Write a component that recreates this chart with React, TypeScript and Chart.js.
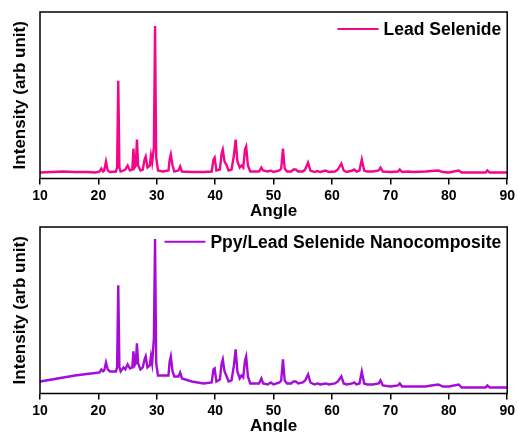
import { useEffect, useRef } from "react";
import { Chart, registerables } from "chart.js";

Chart.register(...registerables);

// Diffraction angle (2θ) sample positions
const angles = [
  10, 12, 14, 16, 18, 19.5, 20.2, 20.5, 20.8, 21.0,
  21.3, 21.6, 22, 23.0, 23.2, 23.4, 23.6, 23.8, 24.3, 24.6,
  25.0, 25.4, 25.8, 26.0, 26.2, 26.4, 26.6, 26.8, 27.2, 27.6,
  27.9, 28.1, 28.4, 28.8, 29.0, 29.2, 29.5, 29.7, 29.9, 30.2,
  31, 32.0, 32.2, 32.4, 32.7, 33.0, 33.7, 34.0, 34.3, 36,
  38, 39.4, 39.7, 39.9, 40.2, 40.8, 41.1, 41.3, 41.6, 41.9,
  42.3, 42.8, 43.2, 43.5, 43.8, 44.2, 44.5, 44.8, 45.1, 45.3,
  45.6, 46, 47.5, 47.9, 48.2, 49.0, 49.5, 50, 51.0, 51.3,
  51.6, 51.9, 52.3, 53, 53.4, 53.8, 54.2, 55.0, 55.4, 55.9,
  56.3, 57, 57.5, 58, 58.9, 59.5, 60.5, 61.0, 61.6, 62.0,
  62.5, 63.5, 63.8, 64.2, 64.7, 65.1, 65.5, 66, 67, 68.0,
  68.3, 68.7, 70, 71.3, 71.6, 72, 73, 74, 76, 77,
  78.2, 79, 80, 81.7, 82.2, 84, 86.3, 86.6, 87, 88,
  90,
];

// Lead Selenide intensities (arb. unit)
const leadSelenide = [
  5, 5.5, 6, 5.5, 5.5, 5, 6, 9, 6, 7,
  16, 7, 5.5, 6, 10, 97, 10, 6, 7, 8,
  12, 7, 8, 29, 10, 12, 38, 12, 7, 8,
  18, 21, 10, 12, 22, 15, 30, 152, 20, 7,
  6, 7, 18, 23, 12, 6, 7, 11, 6, 5.5,
  5.5, 6, 18, 20, 7, 8, 24, 28, 16, 13,
  7, 8, 22, 38, 16, 10, 12, 10, 28, 31,
  12, 6, 6, 10, 7, 6, 7, 5.5, 7, 9,
  29, 9, 6, 6, 8, 8, 6, 6, 8, 15,
  7, 5.5, 6.5, 5.5, 7, 5.5, 6, 8, 14, 7,
  5.5, 7, 8, 6, 7, 18, 7, 6, 6, 7,
  10, 6, 5.5, 6, 8, 5.5, 6, 5.5, 6, 6.5,
  7, 5.5, 5, 7, 5, 5, 5, 7, 5, 5,
  5,
];

// Ppy/Lead Selenide Nanocomposite intensities (arb. unit)
const ppyLeadSelenide = [
  12, 14, 16, 18, 19.5, 20.5, 21, 24, 22, 23,
  31, 24, 22, 22, 26, 108, 26, 22, 26, 24,
  29, 25, 26, 42, 28, 30, 50, 30, 24, 26,
  34, 37, 26, 28, 37, 30, 55, 154, 30, 18,
  18, 18, 32, 37, 22, 17, 17, 21, 15, 12,
  10, 11, 24, 25, 12, 14, 30, 34, 22, 18,
  12, 13, 28, 44, 22, 15, 18, 16, 33, 37,
  17, 10, 10, 15, 10, 9, 11, 9, 11, 13,
  34, 13, 10, 10, 12, 12, 10, 11, 13, 19,
  11, 9, 10, 9, 10, 9, 10, 12, 17, 10,
  9, 10, 11, 9, 10, 22, 10, 9, 9, 10,
  13, 8, 7, 8, 10, 7, 7, 7, 7, 8,
  9, 7, 7, 9, 6, 6, 6, 8, 6, 6,
  6,
];

const xTicks = [10, 20, 30, 40, 50, 60, 70, 80, 90];

const FONT = '"Liberation Sans", Arial, Helvetica, sans-serif';
const PINK = "#F2078C";
const PURPLE = "#A50CD8";

const framePlugin = {
  id: "frameBox",
  afterDraw(chart: any) {
    const { ctx, chartArea } = chart;
    ctx.save();
    ctx.strokeStyle = "#000";
    ctx.lineWidth = 1.5;
    ctx.strokeRect(
      chartArea.left,
      chartArea.top,
      chartArea.right - chartArea.left,
      chartArea.bottom - chartArea.top
    );
    ctx.restore();
  },
};

const insideLegend = {
  id: "insideLegend",
  afterDraw(chart: any, _args: any, opts: any) {
    const { ctx, chartArea } = chart;
    const ds = chart.data.datasets[0];
    ctx.save();
    ctx.font = `bold 17.5px ${FONT}`;
    const w = ctx.measureText(ds.label).width;
    const textX = chartArea.right - 6 - w;
    const y = chartArea.top + opts.dy;
    ctx.strokeStyle = ds.borderColor;
    ctx.lineWidth = 2;
    ctx.beginPath();
    ctx.moveTo(textX - 46, y);
    ctx.lineTo(textX - 5, y);
    ctx.stroke();
    ctx.fillStyle = "#000";
    ctx.textAlign = "left";
    ctx.textBaseline = "middle";
    ctx.fillText(ds.label, textX, y + 1);
    ctx.restore();
  },
};

function Panel(props: {
  top: number;
  label: string;
  values: number[];
  color: string;
  yMin: number;
  yMax: number;
  legendDy: number;
}) {
  const ref = useRef<HTMLCanvasElement | null>(null);
  useEffect(() => {
    if (!ref.current) return;
    const chart = new Chart(ref.current, {
      type: "line",
      data: {
        datasets: [
          {
            label: props.label,
            data: angles.map((a, i) => ({ x: a, y: props.values[i] })),
            borderColor: props.color,
            backgroundColor: props.color,
            borderWidth: 2.4,
            pointRadius: 0,
            tension: 0,
            fill: false,
          },
        ],
      },
      options: {
        responsive: false,
        animation: false,
        layout: { padding: { top: 12, right: 10.5, left: 0, bottom: 0 } },
        plugins: {
          legend: { display: false },
          tooltip: { enabled: false },
          insideLegend: { dy: props.legendDy },
        } as any,
        scales: {
          x: {
            type: "linear",
            min: 10,
            max: 90,
            afterBuildTicks: (s: any) => {
              s.ticks = xTicks.map((v) => ({ value: v }));
            },
            afterFit: (s: any) => {
              s.height = 51.5;
            },
            ticks: {
              color: "#000",
              font: { family: FONT, size: 14, weight: "bold" },
              padding: 3,
              maxRotation: 0,
              autoSkip: false,
            },
            grid: {
              drawOnChartArea: false,
              drawTicks: true,
              tickLength: 6,
              color: "#000",
              lineWidth: 1.5,
            },
            border: { display: false },
            title: {
              display: true,
              text: "Angle",
              color: "#000",
              font: { family: FONT, size: 17, weight: "bold" },
              padding: { top: 0, bottom: 8 },
            },
          },
          y: {
            min: props.yMin,
            max: props.yMax,
            afterFit: (s: any) => {
              s.width = 40;
            },
            ticks: { display: false },
            grid: { display: false },
            border: { display: false },
            title: {
              display: true,
              text: "Intensity (arb unit)",
              color: "#000",
              font: { family: FONT, size: 17, weight: "bold" },
              padding: { top: 10, bottom: 0 },
            },
          },
        } as any,
      },
      plugins: [framePlugin, insideLegend],
    });
    return () => chart.destroy();
  }, []);
  return (
    <canvas
      ref={ref}
      width={518}
      height={230}
      style={{ position: "absolute", left: 0, top: props.top, width: 518, height: 230 }}
    />
  );
}

export default function App() {
  return (
    <div
      style={{
        position: "absolute",
        left: 0,
        top: 0,
        width: 518,
        height: 432,
        overflow: "hidden",
        background: "#fff",
      }}
    >
      <Panel top={0} label="Lead Selenide" values={leadSelenide} color={PINK} yMin={-1} yMax={166} legendDy={17} />
      <Panel
        top={215}
        label="Ppy/Lead Selenide Nanocomposite"
        values={ppyLeadSelenide}
        color={PURPLE}
        yMin={0}
        yMax={166}
        legendDy={14.7}
      />
    </div>
  );
}
